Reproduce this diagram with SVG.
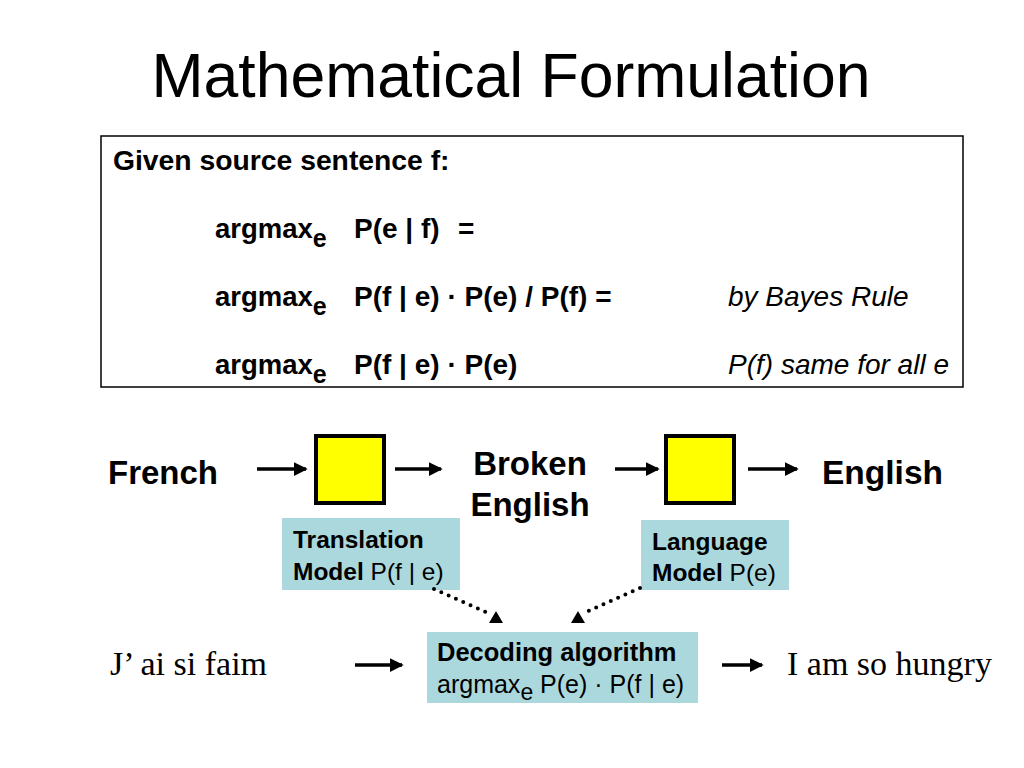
<svg xmlns="http://www.w3.org/2000/svg" width="1024" height="768" viewBox="0 0 1024 768">
<style>
.s{font-family:"Liberation Sans",Arial,sans-serif;fill:#000}
.b{font-weight:bold}
.i{font-style:italic}
.t{font-family:"Liberation Serif","Times New Roman",serif;fill:#000}
.yel{fill:#FFFF00;stroke:#000;stroke-width:4}
.blue{fill:#ABD8DC}
.ar{stroke:#000;stroke-width:3.5;fill:none}
.dot{stroke:#000;stroke-width:4;stroke-linecap:round;stroke-dasharray:0 8;fill:none}
</style>
<defs>
<marker id="ah" markerWidth="4" markerHeight="4" refX="3.5" refY="2" orient="auto" markerUnits="strokeWidth">
<path d="M0,0 L4,2 L0,4 Z" fill="#000"/>
</marker>
</defs>
<rect width="1024" height="768" fill="#fff"/>
<text class="s" x="511" y="97" font-size="62.5" text-anchor="middle">Mathematical Formulation</text>

<g id="formula">
<rect x="101" y="136" width="862" height="251" fill="none" stroke="#000" stroke-width="1.5"/>
<text class="s b" x="113" y="170" font-size="28.3">Given source sentence f:</text>
<text class="s b" x="215" y="238" font-size="27.5">argmax<tspan font-size="25" dy="9">e</tspan></text>
<text class="s b" x="354" y="238" font-size="28">P(e | f)</text>
<text class="s b" x="458" y="238" font-size="28">=</text>
<text class="s b" x="215" y="306" font-size="27.5">argmax<tspan font-size="25" dy="9">e</tspan></text>
<text class="s b" x="354" y="306" font-size="28">P(f | e) · P(e) / P(f) =</text>
<text class="s i" x="728" y="306" font-size="28">by Bayes Rule</text>
<text class="s b" x="215" y="374" font-size="27.5">argmax<tspan font-size="25" dy="9">e</tspan></text>
<text class="s b" x="354" y="374" font-size="28">P(f | e) · P(e)</text>
<text class="s i" x="728" y="374" font-size="28">P(f) same for all e</text>
</g>

<g id="french"><text class="s b" x="108" y="484" font-size="33">French</text></g>
<g id="tm-box"><rect class="yel" x="316" y="436" width="68" height="67"/></g>
<g id="broken"><text class="s b" x="530" y="475" font-size="33" text-anchor="middle">Broken</text><text class="s b" x="530" y="516" font-size="33" text-anchor="middle">English</text></g>
<g id="lm-box"><rect class="yel" x="666" y="436" width="68" height="67"/></g>
<g id="english"><text class="s b" x="822" y="484" font-size="33.5">English</text></g>

<g id="tm-label">
<rect class="blue" x="282" y="518" width="178" height="72"/>
<text class="s b" x="293" y="548" font-size="24.5">Translation</text>
<text class="s" x="293" y="580" font-size="24.5"><tspan font-weight="bold">Model</tspan> P(f | e)</text>
</g>
<g id="lm-label">
<rect class="blue" x="641" y="520" width="148" height="70"/>
<text class="s b" x="652" y="550" font-size="24.5">Language</text>
<text class="s" x="652" y="581" font-size="24.5"><tspan font-weight="bold">Model</tspan> P(e)</text>
</g>
<g id="decoder">
<rect class="blue" x="427" y="632" width="271" height="71"/>
<text class="s b" x="437" y="661" font-size="25.5">Decoding algorithm</text>
<text class="s" x="437" y="693" font-size="25">argmax<tspan font-size="23" dy="7">e</tspan><tspan dy="-7"> P(e) · P(f | e)</tspan></text>
</g>
<g id="input"><text class="t" x="110" y="675" font-size="34">J’ ai si faim</text></g>
<g id="output"><text class="t" x="787" y="675" font-size="34">I am so hungry</text></g>

<g id="connectors">
<line class="ar" x1="257" y1="469" x2="306" y2="469" marker-end="url(#ah)"/>
<line class="ar" x1="395" y1="469" x2="441" y2="469" marker-end="url(#ah)"/>
<line class="ar" x1="615" y1="469" x2="658" y2="469" marker-end="url(#ah)"/>
<line class="ar" x1="748" y1="469" x2="797" y2="469" marker-end="url(#ah)"/>
<line class="ar" x1="355" y1="665" x2="402" y2="665" stroke-width="4" marker-end="url(#ah)"/>
<line class="ar" x1="722" y1="665" x2="762" y2="665" stroke-width="4" marker-end="url(#ah)"/>
<path class="dot" d="M434,589 L490,614"/>
<path d="M489,623 L496,611 L503,623 Z" fill="#000"/>
<path class="dot" d="M640,588 L584,613"/>
<path d="M571,623 L578,611 L585,623 Z" fill="#000"/>
</g>
</svg>
